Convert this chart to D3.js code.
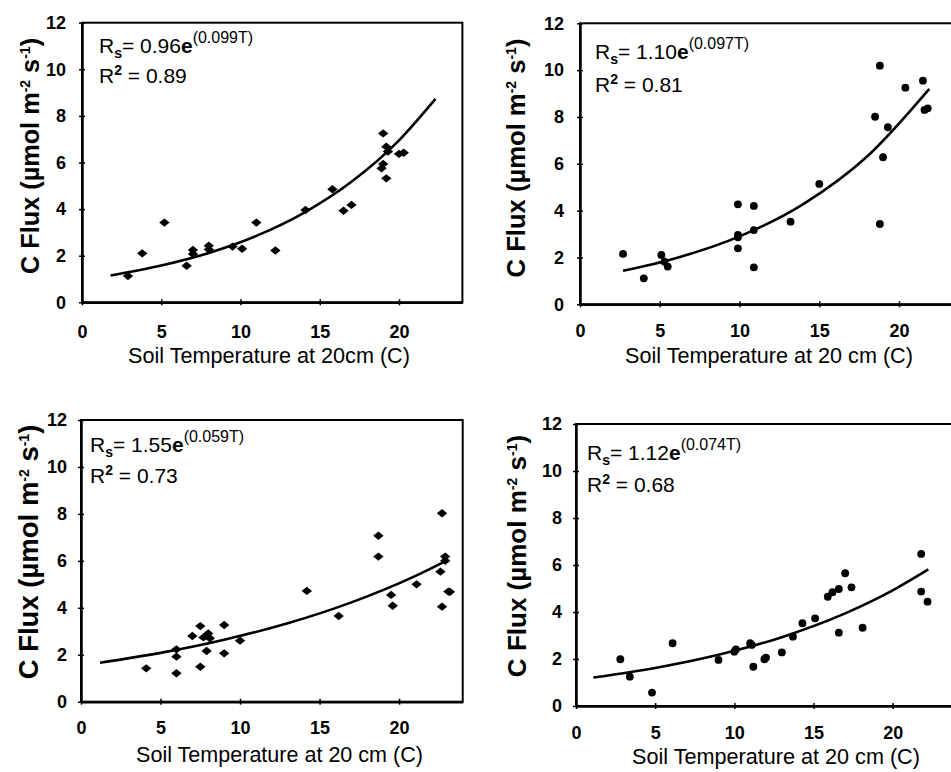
<!DOCTYPE html>
<html>
<head>
<meta charset="utf-8">
<script src="https://cdn.jsdelivr.net/npm/d3@7"></script>
<style>
  body { margin: 0; background: #fff; }
  svg { display: block; font-family: 'Liberation Sans', Arial, sans-serif; }
</style>
</head>
<body>
<svg id="chart" width="951" height="772"></svg>
<script>
// tick labels shared by all four panels
const xTicks = [0, 5, 10, 15, 20];
const yTicks = [0, 2, 4, 6, 8, 10, 12];

// top-left panel
const tempA = [2.9, 3.8, 5.2, 6.6, 7.0, 7.0, 8.0, 8.0, 9.5, 10.1, 11.0, 12.2, 14.1, 15.8, 16.5, 17.0, 18.9, 19.0, 19.0, 19.2, 19.3, 19.2, 20.0, 20.3];
const fluxA = [1.13, 2.1, 3.42, 1.57, 2.25, 2.07, 2.43, 2.27, 2.39, 2.3, 3.42, 2.22, 3.96, 4.85, 3.93, 4.18, 5.75, 5.94, 7.25, 6.68, 6.47, 5.32, 6.37, 6.42];
const fitTempA = [1.8, 5, 8, 11, 14, 17, 20, 22.3];
const fitFluxA = [1.15, 1.58, 2.12, 2.85, 3.84, 5.17, 6.95, 8.73];

// top-right panel
const tempB = [2.7, 4.0, 5.1, 5.3, 5.5, 9.9, 9.9, 9.9, 9.9, 10.9, 10.9, 10.9, 13.2, 15.0, 18.5, 18.8, 18.8, 19.0, 19.3, 20.4, 21.5, 21.6, 21.8];
const fluxB = [2.15, 1.11, 2.11, 1.82, 1.61, 4.27, 2.96, 2.86, 2.39, 4.2, 3.17, 1.58, 3.53, 5.14, 8.01, 10.19, 3.43, 6.28, 7.56, 9.25, 9.55, 8.3, 8.37];
const fitTempB = [2.7, 6, 10, 14, 18, 21.9];
const fitFluxB = [1.43, 1.97, 2.90, 4.28, 6.31, 9.20];

// bottom-left panel
const tempC = [4.1, 6.0, 6.0, 6.0, 7.0, 7.5, 7.5, 7.7, 7.9, 8.0, 8.1, 9.0, 9.0, 10.0, 14.2, 16.2, 18.7, 18.7, 19.5, 19.6, 21.1, 22.7, 22.6, 22.7, 22.9, 22.9, 23.1, 23.2];
const fluxC = [1.42, 2.23, 1.92, 1.21, 2.8, 3.22, 1.49, 2.74, 2.16, 2.91, 2.7, 3.27, 2.06, 2.6, 4.72, 3.65, 7.07, 6.18, 4.55, 4.09, 5.0, 8.03, 5.54, 4.05, 6.18, 6.0, 4.69, 4.68];
const fitTempC = [1.2, 5, 9, 13, 17, 21, 22.8];
const fitFluxC = [1.66, 2.08, 2.64, 3.34, 4.23, 5.35, 5.95];

// bottom-right panel
const tempD = [2.8, 3.4, 4.8, 6.1, 9.0, 10.0, 10.1, 11.0, 11.1, 11.2, 11.9, 12.0, 13.0, 13.7, 14.3, 15.1, 15.9, 16.2, 16.6, 16.6, 17.0, 17.4, 18.1, 21.8, 21.8, 22.2];
const fluxD = [1.99, 1.25, 0.57, 2.67, 1.96, 2.31, 2.41, 2.67, 2.6, 1.67, 1.99, 2.06, 2.28, 2.95, 3.52, 3.73, 4.65, 4.84, 4.98, 3.12, 5.65, 5.05, 3.33, 6.47, 4.87, 4.44];
const fitTempD = [1.1, 5, 9, 13, 17, 20, 22.25];
const fitFluxD = [1.21, 1.62, 2.18, 2.93, 3.94, 4.92, 5.81];

// equation labels, in panel order A B C D
const eqCoef = ['0.96', '1.10', '1.55', '1.12'];
const eqRate = ['(0.099T)', '(0.097T)', '(0.059T)', '(0.074T)'];
const eqR2 = ['0.89', '0.81', '0.73', '0.68'];
const xTitles = ['Soil Temperature at 20cm (C)', 'Soil Temperature at 20 cm (C)',
                 'Soil Temperature at 20 cm (C)', 'Soil Temperature at 20 cm (C)'];

const series = [
  [tempA, fluxA, fitTempA, fitFluxA],
  [tempB, fluxB, fitTempB, fitFluxB],
  [tempC, fluxC, fitTempC, fitFluxC],
  [tempD, fluxD, fitTempD, fitFluxD],
];

// where each panel sits on the page
const layout = [
  { left: 82, right: 462.4, bottom: 302.3, top: 22.7, marker: 'diamond', xPad: 20, yPad: 13,
    eqX: 99, eqY: 52.5, r2Y: 83, ytX: 39, ytY: 156, ytLen: 240, xtX: 269, xtY: 363, xtLen: 282 },
  { left: 580, right: 962.8, bottom: 304.3, top: 23.3, marker: 'circle', xPad: 17, yPad: 13,
    eqX: 595, eqY: 59, r2Y: 92, ytX: 525, ytY: 158, ytLen: 243, xtX: 769, xtY: 363, xtLen: 288 },
  { left: 81, right: 462.7, bottom: 701.7, top: 420, marker: 'diamond', xPad: 17, yPad: 11,
    eqX: 90, eqY: 451.7, r2Y: 482.7, ytX: 38, ytY: 552, ytLen: 261, xtX: 279.5, xtY: 762, xtLen: 287 },
  { left: 576, right: 956, bottom: 706, top: 424, marker: 'circle', xPad: 17, yPad: 11,
    eqX: 587, eqY: 460, r2Y: 491.7, ytX: 526, ytY: 556, ytLen: 247, xtX: 776, xtY: 764, xtLen: 288 },
];

// wide diamond, like the scanned excel markers
const wideDiamond = {
  draw(ctx, size) {
    const w = 5.2, h = 4.2;
    ctx.moveTo(0, -h);
    ctx.lineTo(w, 0);
    ctx.lineTo(0, h);
    ctx.lineTo(-w, 0);
    ctx.closePath();
  }
};

const svg = d3.select('#chart');

layout.forEach((L, i) => {
  const [temp, flux, fitT, fitF] = series[i];
  const g = svg.append('g');

  const x = d3.scaleLinear().domain([0, 24]).range([L.left, L.right]);
  const y = d3.scaleLinear().domain([0, 12]).range([L.bottom, L.top]);

  // frame (top + right)
  g.append('rect')
    .attr('x', x(0)).attr('y', y(12))
    .attr('width', x(24) - x(0)).attr('height', y(0) - y(12))
    .attr('fill', 'none').attr('stroke', '#000').attr('stroke-width', 2);

  const yAxis = g.append('g')
    .attr('transform', `translate(${x(0)},0)`)
    .call(d3.axisLeft(y).tickValues(yTicks).tickSizeInner(3).tickSizeOuter(0).tickPadding(L.yPad));
  yAxis.selectAll('.tick line').attr('x1', 3).attr('stroke-width', 1.5);
  yAxis.select('.domain').attr('stroke-width', 2.5);
  yAxis.selectAll('text').attr('font-size', 18).attr('font-weight', 'bold')
    .attr('font-family', "'Liberation Sans', Arial, sans-serif").attr('fill', '#000');

  const xAxis = g.append('g')
    .attr('transform', `translate(0,${y(0)})`)
    .call(d3.axisBottom(x).tickValues(xTicks).tickSizeInner(3).tickSizeOuter(0).tickPadding(L.xPad));
  xAxis.selectAll('.tick line').attr('y1', -3).attr('stroke-width', 1.5);
  xAxis.select('.domain').attr('stroke-width', 2.5);
  xAxis.selectAll('text').attr('font-size', 18).attr('font-weight', 'bold')
    .attr('font-family', "'Liberation Sans', Arial, sans-serif").attr('fill', '#000');

  // fitted curve
  const fit = fitT.map((t, k) => [t, fitF[k]]);
  g.append('path')
    .datum(fit)
    .attr('fill', 'none').attr('stroke', '#000').attr('stroke-width', 2.6)
    .attr('d', d3.line().x(d => x(d[0])).y(d => y(d[1])).curve(d3.curveMonotoneX));

  // observations
  const pts = temp.map((t, k) => [t, flux[k]]);
  const sym = d3.symbol().type(L.marker === 'diamond' ? wideDiamond : d3.symbolCircle).size(48);
  g.selectAll('path.pt')
    .data(pts)
    .join('path')
    .attr('class', 'pt')
    .attr('transform', d => `translate(${x(d[0])},${y(d[1])})`)
    .attr('d', sym)
    .attr('fill', '#000');

  // equation
  const eq = g.append('text').attr('x', L.eqX).attr('y', L.eqY).attr('font-size', 21);
  eq.append('tspan').text('R');
  eq.append('tspan').attr('font-size', 14).attr('font-weight', 'bold').attr('dy', 5).text('s');
  eq.append('tspan').attr('dy', -5).text('= ' + eqCoef[i]);
  eq.append('tspan').attr('font-weight', 'bold').text('e');
  eq.append('tspan').attr('font-size', 16).attr('dy', -10).text(eqRate[i]);

  const r2 = g.append('text').attr('x', L.eqX).attr('y', L.r2Y).attr('font-size', 21);
  r2.append('tspan').text('R');
  r2.append('tspan').attr('font-size', 14).attr('font-weight', 'bold').attr('dy', -8).text('2');
  r2.append('tspan').attr('dy', 8).text(' = ' + eqR2[i]);

  // y title
  const yt = g.append('text')
    .attr('transform', `translate(${L.ytX},${L.ytY}) rotate(-90)`)
    .attr('text-anchor', 'middle').attr('font-weight', 'bold').attr('font-size', 22);
  yt.append('tspan').text('C Flux (\u00b5mol m');
  yt.append('tspan').attr('font-size', 14).attr('dy', -9).text('-2');
  yt.append('tspan').attr('dy', 9).text(' s');
  yt.append('tspan').attr('font-size', 14).attr('dy', -9).text('-1');
  yt.append('tspan').attr('dy', 9).text(')');
  const ytw = yt.node().getBBox().width;
  yt.attr('font-size', 22 * L.ytLen / ytw);

  // x title
  const xt = g.append('text')
    .attr('x', L.xtX).attr('y', L.xtY)
    .attr('text-anchor', 'middle').attr('font-size', 21)
    .text(xTitles[i]);
  const xtw = xt.node().getBBox().width;
  xt.attr('font-size', 21 * L.xtLen / xtw);
});
</script>
</body>
</html>
